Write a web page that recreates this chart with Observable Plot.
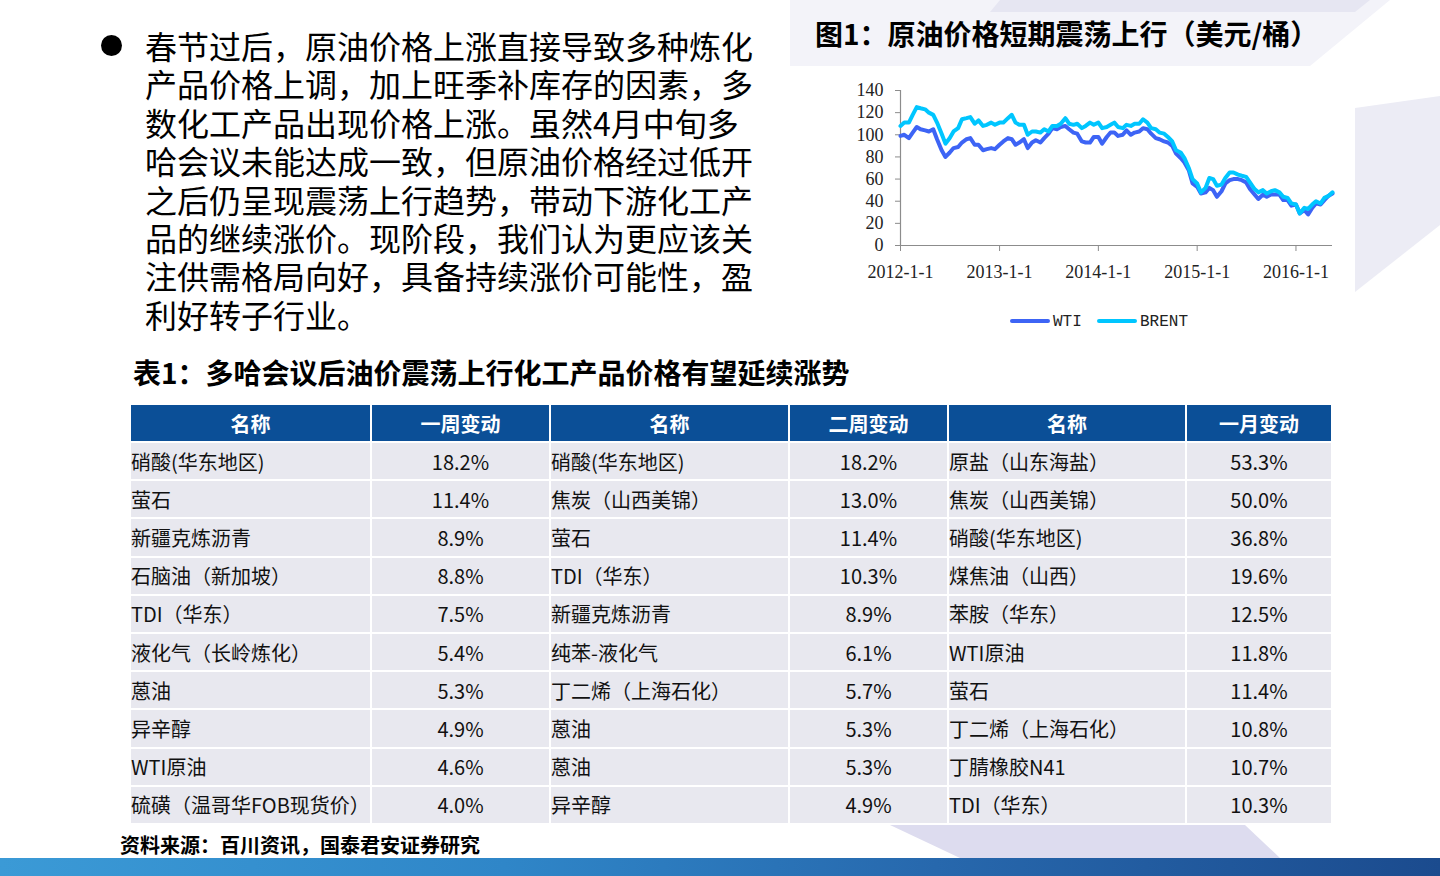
<!DOCTYPE html>
<html><head><meta charset="utf-8">
<script src="https://cdn.jsdelivr.net/npm/d3@7"></script>
<script src="https://cdn.jsdelivr.net/npm/@observablehq/plot@0.6"></script>
<style>
html,body{margin:0;padding:0;}
body{width:1440px;height:876px;position:relative;overflow:hidden;background:#fff;font-family:"Noto Sans CJK SC","Noto Sans",sans-serif;color:#000;}
.abs{position:absolute;}
#para div{height:38.4px;line-height:38.4px;font-size:32px;white-space:nowrap;}
#tbl{border-collapse:collapse;table-layout:fixed;width:1202px;}
#tbl th{background:#0b4f97;color:#fff;font-weight:700;font-size:20px;height:36px;padding:0;text-align:center;border:2px solid #fff;border-top:none;}
#tbl td{background:#e8e8ef;font-size:20px;height:36.2px;padding:0;border:2px solid #fff;white-space:nowrap;color:#111;}
#tbl td.n{text-align:left;}
#tbl td.v{text-align:center;}
.sw{position:absolute;height:4px;border-radius:2px;}
.lg{position:absolute;font-family:"Liberation Mono","DejaVu Sans Mono",monospace;font-size:16px;color:#222;line-height:18px;}
</style></head><body>

<svg class="abs" style="left:0;top:0" width="1440" height="876">
  <polygon points="790,0 1390,0 1310,66 790,66" fill="#f3f3f9"/>
  <polygon points="1000,0 1370,0 1355,12 990,12" fill="#e6e6f2"/>
  <polygon points="1355,108 1440,96 1440,225 1355,292" fill="#ececf5"/>
  <polygon points="890,825 1245,825 1280,858 960,858" fill="#dddcef"/>
</svg>

<div class="abs" style="left:0;top:858px;width:1440px;height:18px;background:linear-gradient(90deg,#3b9ad6 0%,#2f86c8 35%,#2768ad 65%,#1b4b8e 100%);"></div>

<div class="abs" style="left:101px;top:35px;width:21px;height:21px;border-radius:50%;background:#000;"></div>
<div id="para" class="abs" style="left:145px;top:26px;"></div>

<div class="abs" style="left:815px;top:18px;font-size:28px;font-weight:700;line-height:30px;white-space:nowrap;">图1：原油价格短期震荡上行（美元/桶）</div>
<div class="abs" style="left:835px;top:75px;width:505px;height:270px;background:#fff;"></div>
<div id="chart" class="abs" style="left:840px;top:80px;"></div>

<div class="sw" style="left:1010px;top:319px;width:40px;background:#3d64f5;"></div>
<div class="lg" style="left:1053px;top:313px;">WTI</div>
<div class="sw" style="left:1097px;top:319px;width:40px;background:#00c6ff;"></div>
<div class="lg" style="left:1140px;top:313px;">BRENT</div>

<div class="abs" style="left:133px;top:356px;font-size:28px;font-weight:700;line-height:32px;white-space:nowrap;">表1：多哈会议后油价震荡上行化工产品价格有望延续涨势</div>

<div class="abs" style="left:129px;top:405px;"><table id="tbl"></table></div>

<div class="abs" style="left:120px;top:832px;font-size:20px;font-weight:700;line-height:26px;white-space:nowrap;">资料来源：百川资讯，国泰君安证券研究</div>

<script>
// ---------- text ----------
const paragraphLines = [
  "春节过后，原油价格上涨直接导致多种炼化",
  "产品价格上调，加上旺季补库存的因素，多",
  "数化工产品出现价格上涨。虽然4月中旬多",
  "哈会议未能达成一致，但原油价格经过低开",
  "之后仍呈现震荡上行趋势，带动下游化工产",
  "品的继续涨价。现阶段，我们认为更应该关",
  "注供需格局向好，具备持续涨价可能性，盈",
  "利好转子行业。"
];

// ---------- chart data (semi-monthly) ----------
const dates = [
  "2012-01-01","2012-01-15","2012-02-01","2012-02-15","2012-03-01","2012-03-15","2012-04-01","2012-04-15","2012-05-01","2012-05-15","2012-06-01","2012-06-15",
  "2012-07-01","2012-07-15","2012-08-01","2012-08-15","2012-09-01","2012-09-15","2012-10-01","2012-10-15","2012-11-01","2012-11-15","2012-12-01","2012-12-15",
  "2013-01-01","2013-01-15","2013-02-01","2013-02-15","2013-03-01","2013-03-15","2013-04-01","2013-04-15","2013-05-01","2013-05-15","2013-06-01","2013-06-15",
  "2013-07-01","2013-07-15","2013-08-01","2013-08-15","2013-09-01","2013-09-15","2013-10-01","2013-10-15","2013-11-01","2013-11-15","2013-12-01","2013-12-15",
  "2014-01-01","2014-01-15","2014-02-01","2014-02-15","2014-03-01","2014-03-15","2014-04-01","2014-04-15","2014-05-01","2014-05-15","2014-06-01","2014-06-15",
  "2014-07-01","2014-07-15","2014-08-01","2014-08-15","2014-09-01","2014-09-15","2014-10-01","2014-10-15","2014-11-01","2014-11-15","2014-12-01","2014-12-15",
  "2015-01-01","2015-01-15","2015-02-01","2015-02-15","2015-03-01","2015-03-15","2015-04-01","2015-04-15","2015-05-01","2015-05-15","2015-06-01","2015-06-15",
  "2015-07-01","2015-07-15","2015-08-01","2015-08-15","2015-09-01","2015-09-15","2015-10-01","2015-10-15","2015-11-01","2015-11-15","2015-12-01","2015-12-15",
  "2016-01-01","2016-01-15","2016-02-01","2016-02-15","2016-03-01","2016-03-15","2016-04-01","2016-04-15","2016-05-01","2016-05-15"
];
const wti = [
  99,100,97,102,107,105,104,103,105,96,86,80,
  84,88,89,93,96,97,91,91,86,87,88,87,
  91,94,97,96,91,93,96,88,93,95,93,97,
  101,106,105,107,108,105,102,101,94,93,93,98,
  98,92,98,102,102,99,100,104,100,102,103,106,
  105,101,97,96,94,93,90,83,79,75,68,56,
  53,47,48,52,50,44,49,56,59,60,60,59,
  57,51,46,42,46,44,46,46,46,41,41,36,
  37,29,32,28,34,38,37,41,45,47
];
const brent = [
  108,111,111,118,125,124,123,120,118,111,101,92,
  97,103,106,114,115,116,110,113,108,109,111,109,
  111,111,115,118,111,109,109,100,103,103,102,105,
  103,108,108,110,115,110,109,110,106,108,111,109,
  111,106,107,109,111,107,106,109,108,110,110,114,
  111,106,105,102,101,98,94,86,84,79,70,60,
  56,48,52,61,60,54,55,61,66,66,64,63,
  62,57,51,48,50,47,49,50,48,44,43,38,
  37,29,34,33,37,40,38,43,45,48
];
const seriesNames = ["WTI","BRENT"];
const seriesColors = ["#3d64f5","#00c6ff"];
const yTicks = [0,20,40,60,80,100,120,140];
const xTickLabels = ["2012-1-1","2013-1-1","2014-1-1","2015-1-1","2016-1-1"];

// ---------- table data ----------
const headers = ["名称","一周变动","名称","二周变动","名称","一月变动"];
const names1 = ["硝酸(华东地区)","萤石","新疆克炼沥青","石脑油（新加坡）","TDI（华东）","液化气（长岭炼化）","蒽油","异辛醇","WTI原油","硫磺（温哥华FOB现货价）"];
const week1  = ["18.2%","11.4%","8.9%","8.8%","7.5%","5.4%","5.3%","4.9%","4.6%","4.0%"];
const names2 = ["硝酸(华东地区)","焦炭（山西美锦）","萤石","TDI（华东）","新疆克炼沥青","纯苯-液化气","丁二烯（上海石化）","蒽油","蒽油","异辛醇"];
const week2  = ["18.2%","13.0%","11.4%","10.3%","8.9%","6.1%","5.7%","5.3%","5.3%","4.9%"];
const names3 = ["原盐（山东海盐）","焦炭（山西美锦）","硝酸(华东地区)","煤焦油（山西）","苯胺（华东）","WTI原油","萤石","丁二烯（上海石化）","丁腈橡胶N41","TDI（华东）"];
const month1 = ["53.3%","50.0%","36.8%","19.6%","12.5%","11.8%","11.4%","10.8%","10.7%","10.3%"];
const colWidths = [241,179,239,159,238,146];

// ---------- build paragraph ----------
const para = document.getElementById("para");
paragraphLines.forEach(t => { const d = document.createElement("div"); d.textContent = t; para.appendChild(d); });

// ---------- build table ----------
const tbl = document.getElementById("tbl");
const cg = document.createElement("colgroup");
colWidths.forEach(w => { const c = document.createElement("col"); c.style.width = w + "px"; cg.appendChild(c); });
tbl.appendChild(cg);
const hr = document.createElement("tr");
headers.forEach(h => { const th = document.createElement("th"); th.textContent = h; hr.appendChild(th); });
tbl.appendChild(hr);
names1.forEach((_, i) => {
  const tr = document.createElement("tr");
  [[names1[i],"n"],[week1[i],"v"],[names2[i],"n"],[week2[i],"v"],[names3[i],"n"],[month1[i],"v"]].forEach(([t,c]) => {
    const td = document.createElement("td"); td.textContent = t; td.className = c; tr.appendChild(td);
  });
  tbl.appendChild(tr);
});

// ---------- chart ----------
const parse = d3.utcParse("%Y-%m-%d");
const rows = [];
dates.forEach((d, i) => {
  rows.push({date: parse(d), series: "WTI", value: wti[i]});
  rows.push({date: parse(d), series: "BRENT", value: brent[i]});
});
const xTicks = xTickLabels.map(s => parse(s));
const x0 = parse(dates[0]);
const chart = Plot.plot({
  width: 500, height: 210,
  marginLeft: 60, marginRight: 8, marginTop: 10, marginBottom: 45,
  style: {fontFamily: "'Liberation Serif','Times New Roman',serif", fontSize: "18px", color: "#222", background: "transparent", overflow: "visible"},
  x: {type: "utc", domain: [x0, parse(dates[dates.length - 1])]},
  y: {domain: [0, 140]},
  color: {domain: seriesNames, range: seriesColors},
  marks: [
    Plot.ruleY([0], {stroke: "#8c8c8c", strokeWidth: 1.2}),
    Plot.ruleX([x0], {stroke: "#8c8c8c", strokeWidth: 1.2}),
    Plot.axisY({ticks: yTicks, tickSize: 5, tickPadding: 12, stroke: "#8c8c8c", label: null, fontSize: 18}),
    Plot.axisX({ticks: xTicks, tickSize: 6, tickPadding: 14, stroke: "#8c8c8c", label: null, fontSize: 18,
      tickFormat: d => xTickLabels[xTicks.findIndex(t => +t === +d)]}),
    Plot.line(rows, {x: "date", y: "value", z: "series", stroke: "series", strokeWidth: 4, strokeLinejoin: "round", strokeLinecap: "round"})
  ]
});
document.getElementById("chart").appendChild(chart);
</script>
</body></html>
